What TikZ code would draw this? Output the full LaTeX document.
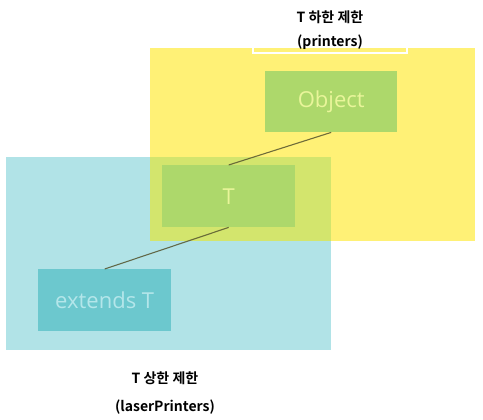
\documentclass[tikz,border=0pt]{standalone}
\usepackage{fontspec}
\usetikzlibrary{calc}
\setmainfont{Open Sans}
\newfontfamily\kofont{Noto Sans CJK KR}[BoldFont={Noto Sans CJK KR Bold}]
\definecolor{zyel}{HTML}{FFF176}
\definecolor{zcyan}{HTML}{B1E3E7}
\definecolor{zmix}{HTML}{D3E56D}
\definecolor{zgreen}{HTML}{ADD86B}
\definecolor{zteal}{HTML}{6CC8CE}
\definecolor{zytext}{HTML}{E9F59A}
\definecolor{zctext}{HTML}{B4E6EA}
\definecolor{zline}{HTML}{55552F}
\begin{document}
\begin{tikzpicture}[x=1pt,y=-1pt,
  region/.style={draw=none,inner sep=0pt,anchor=north west},
  classbox/.style={draw=none,inner sep=0pt,anchor=north west,font=\fontsize{22}{26}\selectfont},
  caption/.style={font=\kofont\bfseries\fontsize{14}{17}\selectfont,text=black},
  link/.style={draw=zline,line width=1.1pt,opacity=0.85}]
\useasboundingbox (0,0) rectangle (483,420);
\fill[white] (0,0) rectangle (483,420);
\node[region,fill=zcyan,minimum width=325pt,minimum height=193pt] (lower) at (6,157) {};
\node[region,fill=zyel,minimum width=325pt,minimum height=193pt] (upper) at (150,48) {};
\fill[zmix] (150,157) rectangle (331,241);
\node[classbox,fill=zgreen,text=zytext,minimum width=132pt,minimum height=61pt] (obj) at (265,71) {Object};
\node[classbox,fill=zgreen,text=zytext,minimum width=133pt,minimum height=62pt] (t) at (162,165) {T};
\node[classbox,fill=zteal,text=zctext,minimum width=133pt,minimum height=62pt] (ext) at (38,269) {extends T};
\draw[link] (obj.south) -- (t.north);
\draw[link] (t.south) -- (ext.north);
\coordinate (bl) at (253,48);
\coordinate (br) at (407,48);
\draw[white,line width=1.2pt] (bl) -- ++(0,5) -- ($(br)+(0,5)$) -- (br);
\node[caption] (capup) at (330,17) {T 하한 제한};
\node[caption] (capupb) at (330,42) {(printers)};
\node[caption] (caplo) at (165,378) {T 상한 제한};
\node[caption] (caplob) at (165,407) {(laserPrinters)};
\end{tikzpicture}
\end{document}
